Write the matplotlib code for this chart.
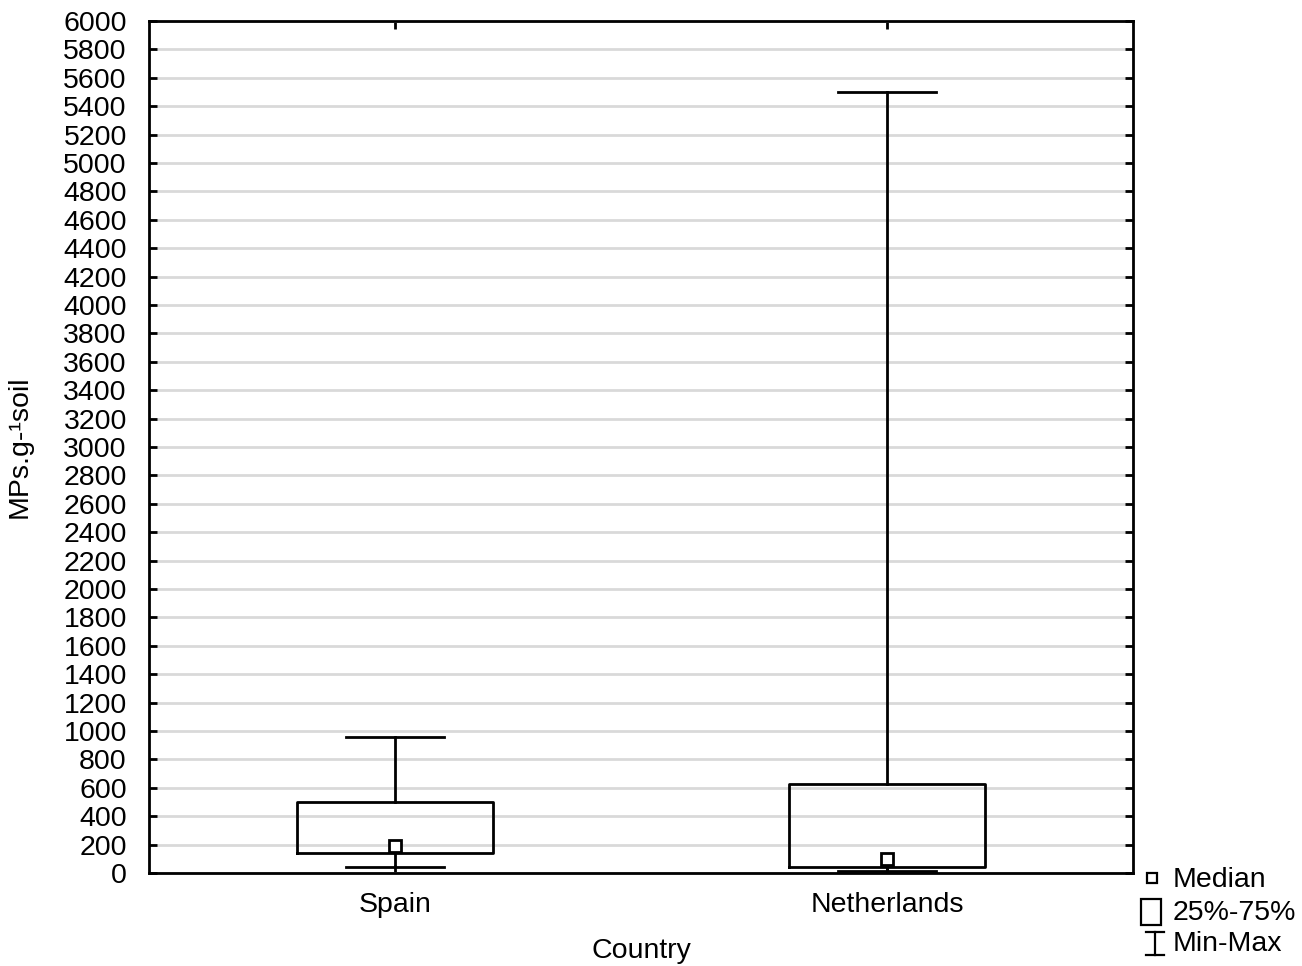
import numpy as np
import matplotlib
matplotlib.use("Agg")
import matplotlib.pyplot as plt
from matplotlib.lines import Line2D
from matplotlib.patches import Rectangle

plt.rcParams['font.family'] = ['Liberation Sans', 'DejaVu Sans']

countries = ["Spain", "Netherlands"]
mins = [40, 12]
q1s = [140, 45]
medians = [190, 100]
q3s = [500, 630]
maxs = [955, 5500]

y_ticks = np.arange(0, 6001, 200)

fig = plt.figure(figsize=(13.02, 9.66), dpi=100)
ax = fig.add_axes([149/1302, 93/966, (1133-149)/1302, (873-21)/966])

stats = []
for i in range(len(countries)):
    stats.append(dict(med=medians[i], q1=q1s[i], q3=q3s[i],
                      whislo=mins[i], whishi=maxs[i], label=countries[i]))

pos = np.arange(1, len(countries)+1)
ax.bxp(stats, positions=pos, widths=0.4, capwidths=0.2, showfliers=False,
       boxprops=dict(color='black', linewidth=2),
       whiskerprops=dict(color='black', linewidth=2),
       capprops=dict(color='black', linewidth=2),
       medianprops=dict(linewidth=0), zorder=3)
ax.plot(pos, medians, 's', markersize=9, markerfacecolor='white',
        markeredgecolor='black', markeredgewidth=2, zorder=4, linestyle='none')

ax.set_xlim(0.5, 2.5)
ax.set_ylim(0, 6000)
ax.set_yticks(y_ticks)
ax.set_xticks(pos, labels=countries)
ax.yaxis.grid(True, color='#d9d9d9', linewidth=2)
ax.set_axisbelow(True)
ax.tick_params(direction='in', length=6, width=2, top=True, right=True,
               labelsize=20.5)
ax.tick_params(axis='y', pad=16)
ax.tick_params(axis='x', pad=14)
for sp in ax.spines.values():
    sp.set_linewidth(2)

ax.set_xlabel("Country", fontsize=20.5, labelpad=14)
ax.set_ylabel("MPs.g-\u00b9soil", fontsize=20.5, labelpad=22)

# legend drawn outside the axes, bottom right
fig.add_artist(Line2D([1152/1302], [1-878/966], marker='s', markersize=7,
                      markerfacecolor='white', markeredgecolor='black',
                      markeredgewidth=1.6, linestyle='none',
                      transform=fig.transFigure))
fig.add_artist(Rectangle((1141/1302, 1-925/966), 20/1302, 26/966,
                         facecolor='white', edgecolor='black', linewidth=1.6,
                         transform=fig.transFigure))
xb = 1155/1302
fig.add_artist(Line2D([xb, xb], [1-932/966, 1-955/966], color='black',
                      linewidth=1.6, transform=fig.transFigure))
for yy in (932, 955):
    fig.add_artist(Line2D([1146/1302, 1164/1302], [1-yy/966, 1-yy/966],
                          color='black', linewidth=1.6, transform=fig.transFigure))
fig.text(1173/1302, 1-880/966, "Median", fontsize=20.5, va='center')
fig.text(1173/1302, 1-913/966, "25%-75%", fontsize=20.5, va='center')
fig.text(1173/1302, 1-944/966, "Min-Max", fontsize=20.5, va='center')

fig.savefig("out.png", dpi=100)
